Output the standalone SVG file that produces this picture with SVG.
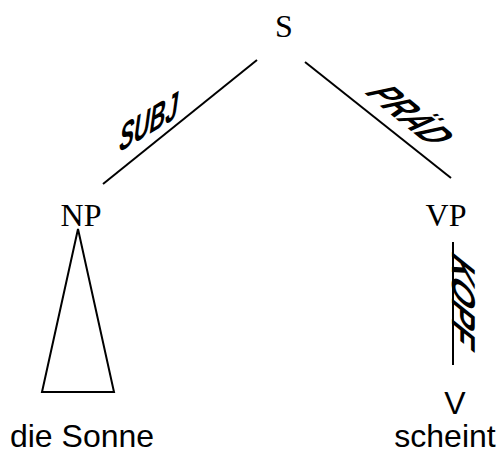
<svg xmlns="http://www.w3.org/2000/svg" width="501" height="454" viewBox="0 0 501 454">
<style>
.cat{font-family:"Liberation Serif",serif;font-size:32px;fill:#000;text-anchor:middle}
.word{font-family:"Liberation Sans",sans-serif;font-size:32px;fill:#000;text-anchor:middle}
.lab{font-family:"Liberation Sans",sans-serif;font-size:32px;font-weight:bold;fill:#000}
.edge{stroke:#000;stroke-width:2;fill:none}
</style>
<rect width="501" height="454" fill="#fff"/>
<g id="connectors">
<line class="edge" x1="257" y1="60" x2="103" y2="184"/>
<line class="edge" x1="305" y1="62" x2="451" y2="178"/>
<line class="edge" x1="453" y1="242" x2="453" y2="365"/>
<polygon class="edge" points="78,229 42,392 114,392"/>
<text class="lab" transform="translate(118,153) rotate(-31) skewX(-38.8)" textLength="68" lengthAdjust="spacingAndGlyphs">SUBJ</text>
<text class="lab" style="font-size:35px" transform="translate(363,92) rotate(39) skewX(-38.8)" textLength="84" lengthAdjust="spacingAndGlyphs">PRÄD</text>
<text class="lab" style="font-size:33px" transform="translate(452,250) rotate(90) skewX(-38.8)" textLength="86" lengthAdjust="spacingAndGlyphs">KOPF</text>
</g>
<g id="node-S"><text class="cat" x="284" y="37">S</text></g>
<g id="node-NP"><text class="cat" x="81" y="226">NP</text></g>
<g id="node-VP"><text class="cat" x="446" y="226">VP</text></g>
<g id="node-V"><text class="word" x="455" y="414">V</text></g>
<g id="node-die-Sonne"><text class="word" x="82" y="447">die Sonne</text></g>
<g id="node-scheint"><text class="word" x="445" y="447">scheint</text></g>
</svg>
